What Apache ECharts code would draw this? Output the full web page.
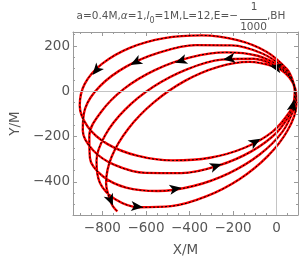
<!DOCTYPE html>
<html><head><meta charset="utf-8">
<script src="https://cdn.jsdelivr.net/npm/echarts@6/dist/echarts.min.js"></script>
<style>html,body{margin:0;padding:0;background:#fff}#c{width:300px;height:262px}</style>
</head><body><div id="c"></div>
<script>
// ---- data (X/M, Y/M) ----
const loop1 = [[83,6],[72,53],[47,98],[-45,174],[-180,226],[-344,247],[-515,235],[-674,192],[-802,121],[-881,33],[-904,-63],[-868,-155],[-778,-232],[-641,-284],[-477,-305],[-306,-293],[-147,-249],[-20,-179],[60,-90],[80,-40],[83,11]];
const loop2 = [[83,11],[67,60],[35,103],[-66,167],[-207,203],[-371,204],[-540,171],[-693,108],[-811,23],[-879,-75],[-890,-173],[-843,-260],[-744,-325],[-602,-360],[-437,-361],[-268,-328],[-116,-265],[2,-180],[71,-82],[84,-30],[81,22]];
const loop3 = [[81,22],[58,68],[20,107],[-88,157],[-233,172],[-396,150],[-559,94],[-701,11],[-806,-91],[-860,-197],[-857,-295],[-798,-375],[-691,-425],[-546,-440],[-382,-418],[-220,-362],[-78,-279],[27,-178],[81,-72],[88,-18],[77,32]];
const loop4 = [[77,32],[50,75],[6,108],[-108,144],[-253,140],[-412,97],[-566,20],[-696,-81],[-788,-195],[-827,-307],[-811,-405],[-743,-475],[-630,-512],[-484,-507],[-324,-464],[-171,-388],[-41,-286],[50,-173],[90,-60],[89,-7],[72,42]];
const loop5 = [[72,42],[39,81],[-7,108],[-125,130],[-268,108],[-421,46],[-564,-49],[-681,-165],[-758,-290],[-783,-405],[-756,-500],[-731,-530]];

const arrowX = [-856, -77, -672, -253, -466, -437, -246, -613, -33, -760, 76];
const arrowY = [81, -205, 117, -319, 127, -424, 136, -509, 107, -512, -36];
const arrowLoop = [1, 1, 2, 2, 3, 3, 4, 4, 5, 5, 1];

const xMajor = [-800, -600, -400, -200, 0];
const yMajor = [-400, -200, 0, 200];
const xMinor = [-900, -850, -750, -700, -650, -550, -500, -450, -350, -300, -250, -150, -100, -50, 50];
const yMinor = [-500, -450, -350, -300, -250, -150, -100, -50, 50, 100, 150, 250];

// ---- chart ----
const loops = [loop1, loop2, loop3, loop4, loop5];
const path = [];
loops.forEach((l, k) => l.forEach((p, i) => { if (k === 0 || i > 0) path.push(p); }));

const X_MIN = -935, X_MAX = 98, Y_MIN = -546, Y_MAX = 262;
const FRAME = '#9a9a9a', LABEL = '#555', FONT = 'DejaVu Sans';
const fmt = v => (v < 0 ? '\u2212' + Math.abs(v) : String(v));

function xAx(pos, major, withLabel) {
  return {
    type: 'value', min: X_MIN, max: X_MAX, position: pos,
    axisLine: { show: major, onZero: false, lineStyle: { color: FRAME, width: 1 } },
    axisTick: { show: true, inside: true, length: major ? 4 : 2, customValues: major ? xMajor : xMinor, lineStyle: { color: FRAME } },
    axisLabel: withLabel ? { show: true, customValues: xMajor, formatter: fmt, color: LABEL, fontSize: 13.5, fontFamily: FONT, margin: 6 } : { show: false },
    splitLine: { show: false },
    name: withLabel ? 'X/M' : '', nameLocation: 'middle', nameGap: 28,
    nameTextStyle: { color: LABEL, fontSize: 13.5, fontFamily: FONT }
  };
}
function yAx(pos, major, withLabel) {
  return {
    type: 'value', min: Y_MIN, max: Y_MAX, position: pos,
    axisLine: { show: major, onZero: false, lineStyle: { color: FRAME, width: 1 } },
    axisTick: { show: true, inside: true, length: major ? 4 : 2, customValues: major ? yMajor : yMinor, lineStyle: { color: FRAME } },
    axisLabel: withLabel ? { show: true, customValues: yMajor, formatter: fmt, color: LABEL, fontSize: 13.5, fontFamily: FONT, margin: 3 } : { show: false },
    splitLine: { show: false },
    name: withLabel ? 'Y/M' : '', nameLocation: 'middle', nameGap: 47,
    nameTextStyle: { color: LABEL, fontSize: 13.5, fontFamily: FONT }
  };
}

const tf = 10.5;
const option = {
  backgroundColor: '#fff',
  animation: false,
  grid: { left: 64, top: 32, width: 234, height: 184, containLabel: false },
  xAxis: [xAx('bottom', true, true), xAx('bottom', false, false), xAx('top', true, false), xAx('top', false, false)],
  yAxis: [yAx('left', true, true), yAx('left', false, false), yAx('right', true, false), yAx('right', false, false)],
  graphic: [
    { type: 'text', x: 238, y: 16, style: {
      text: '{n|a=0.4M,}{i|\u03b1}{n|=1,}{i|l}{s|0}{n|=1M,L=12,E=\u2212}',
      align: 'right', verticalAlign: 'middle',
      rich: {
        n: { fontSize: tf, fontFamily: FONT, fill: LABEL, lineHeight: 14 },
        i: { fontSize: tf, fontFamily: FONT, fontStyle: 'italic', fill: LABEL, lineHeight: 14 },
        s: { fontSize: 8, fontFamily: FONT, fill: LABEL, lineHeight: 17, verticalAlign: 'bottom' }
      } } },
    { type: 'text', x: 254, y: 7, style: { text: '1', align: 'center', verticalAlign: 'middle', fontSize: tf, fontFamily: FONT, fill: LABEL } },
    { type: 'line', shape: { x1: 240, y1: 19.5, x2: 267, y2: 19.5 }, style: { stroke: LABEL, lineWidth: 1 } },
    { type: 'text', x: 253.5, y: 27, style: { text: '1000', align: 'center', verticalAlign: 'middle', fontSize: tf, fontFamily: FONT, fill: LABEL } },
    { type: 'text', x: 267, y: 16, style: { text: ',BH', align: 'left', verticalAlign: 'middle', fontSize: tf, fontFamily: FONT, fill: LABEL } }
  ],
  series: [
    { type: 'line', id: 'axes0', data: [], z: 1, xAxisIndex: 0, yAxisIndex: 0, silent: true,
      markLine: { silent: true, symbol: 'none', label: { show: false }, animation: false,
        lineStyle: { color: '#c4c4c4', width: 1, type: 'solid' },
        data: [{ xAxis: 0 }, { yAxis: 0 }] } },
    { type: 'line', id: 'red', data: path, xAxisIndex: 0, yAxisIndex: 0, smooth: 0.35, showSymbol: false, symbol: 'none', z: 2,
      lineStyle: { color: '#ff0000', width: 2.4 } },
    { type: 'line', id: 'dash', data: path, xAxisIndex: 0, yAxisIndex: 0, smooth: 0.35, showSymbol: false, symbol: 'none', z: 3,
      lineStyle: { color: '#000', width: 1, type: [2, 2] } },
    { type: 'scatter', id: 'arrows', data: [], xAxisIndex: 0, yAxisIndex: 0, z: 4, symbol: 'arrow', symbolSize: [7.5, 12],
      itemStyle: { color: '#000', opacity: 1 } }
  ]
};

const chart = echarts.init(document.getElementById('c'), null, { renderer: 'canvas' });
chart.setOption(option);

// place arrowheads on their loop, oriented along the local tangent (pixel space)
function snap(pts, P) {
  let best = 0, bd = Infinity, bs = 0;
  for (let i = 0; i < pts.length - 1; i++) {
    const a = pts[i], b = pts[i + 1];
    const dx = b[0] - a[0], dy = b[1] - a[1];
    const L2 = dx * dx + dy * dy || 1;
    let s = ((P[0] - a[0]) * dx + (P[1] - a[1]) * dy) / L2;
    s = Math.max(0, Math.min(1, s));
    const qx = a[0] + s * dx - P[0], qy = a[1] + s * dy - P[1];
    const d = qx * qx + qy * qy;
    if (d < bd) { bd = d; best = i; bs = s; }
  }
  const i = best;
  const p0 = pts[Math.max(i - 1, 0)], p1 = pts[i], p2 = pts[i + 1], p3 = pts[Math.min(i + 2, pts.length - 1)];
  const t1 = [p2[0] - p0[0], p2[1] - p0[1]], t2 = [p3[0] - p1[0], p3[1] - p1[1]];
  return {
    point: [p1[0] + bs * (p2[0] - p1[0]), p1[1] + bs * (p2[1] - p1[1])],
    tangent: [(1 - bs) * t1[0] + bs * t2[0], (1 - bs) * t1[1] + bs * t2[1]]
  };
}
const finder = { seriesId: 'red' };
const pix = loops.map(l => l.map(p => chart.convertToPixel(finder, p)));
const arrowData = arrowX.map((x, k) => {
  const P = chart.convertToPixel(finder, [x, arrowY[k]]);
  const r = snap(pix[arrowLoop[k] - 1], P);
  const v = chart.convertFromPixel(finder, r.point);
  const ang = Math.atan2(-r.tangent[1], r.tangent[0]) * 180 / Math.PI;
  return { value: v, symbolRotate: ang - 90 };
});
chart.setOption({ series: [{ id: 'arrows', data: arrowData }] });
</script>
</body></html>
